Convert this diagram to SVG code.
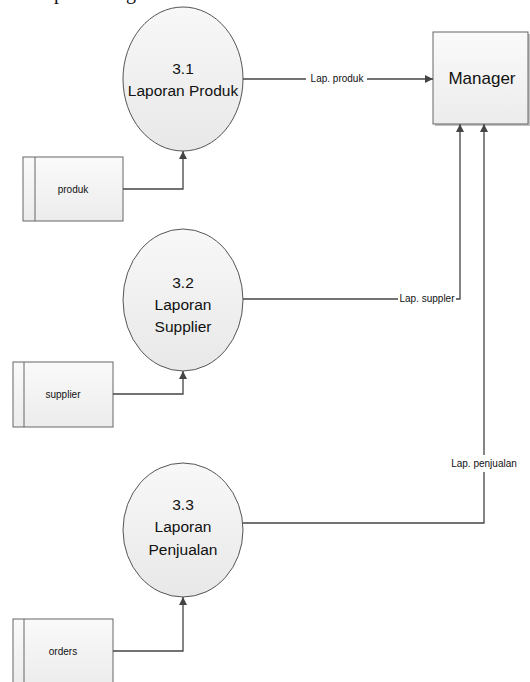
<svg xmlns="http://www.w3.org/2000/svg" width="530" height="682" viewBox="0 0 530 682">
<style>
.proc{fill:url(#gc);stroke:#555;stroke-width:1}
.box{fill:url(#gb);stroke:#666;stroke-width:1}
.shadow{fill:#999;opacity:0.6}
.big{font-family:"Liberation Sans",Arial,sans-serif;font-size:15.5px;fill:#111;text-anchor:middle}
.mgr{font-family:"Liberation Sans",Arial,sans-serif;font-size:17px;fill:#111;text-anchor:middle}
.small{font-family:"Liberation Sans",Arial,sans-serif;font-size:10px;fill:#111;text-anchor:middle}
.lbl{font-family:"Liberation Sans",Arial,sans-serif;font-size:10px;fill:#111;text-anchor:middle}
.flow{fill:none;stroke:#444;stroke-width:1.3}
.top{font-family:"Liberation Serif","Times New Roman",serif;font-size:20px;fill:#111}
</style>
<defs>
<linearGradient id="gc" x1="0" y1="0" x2="0" y2="1"><stop offset="0" stop-color="#f8f8f8"/><stop offset="1" stop-color="#e8e8e8"/></linearGradient>
<linearGradient id="gb" x1="0" y1="0" x2="0" y2="1"><stop offset="0" stop-color="#fafafa"/><stop offset="1" stop-color="#ececec"/></linearGradient>
<marker id="arr" viewBox="0 0 10 10" refX="10" refY="5" markerWidth="8" markerHeight="8" markerUnits="userSpaceOnUse" orient="auto"><path d="M0,0 L10,5 L0,10 z" fill="#444"/></marker>
</defs>
<g id="top-text">
<text class="top" x="54" y="-1">p</text>
<text class="top" x="126" y="-1">g</text>
</g>
<g id="manager">
<rect class="shadow" x="435" y="34" width="95" height="92"/>
<rect class="box" x="433" y="32" width="95" height="92"/>
<text class="mgr" x="482" y="84">Manager</text>
</g>
<g id="p31">
<ellipse class="proc" cx="183" cy="79" rx="60" ry="72"/>
<text class="big" x="183" y="74">3.1</text>
<text class="big" x="183" y="96">Laporan Produk</text>
</g>
<g id="p32">
<ellipse class="proc" cx="183" cy="300" rx="60" ry="71"/>
<text class="big" x="183" y="288">3.2</text>
<text class="big" x="183" y="310">Laporan</text>
<text class="big" x="183" y="332">Supplier</text>
</g>
<g id="p33">
<ellipse class="proc" cx="183" cy="530" rx="60" ry="67"/>
<text class="big" x="183" y="510">3.3</text>
<text class="big" x="183" y="532">Laporan</text>
<text class="big" x="183" y="555">Penjualan</text>
</g>
<g id="ds-produk">
<rect class="box" x="23" y="157" width="100" height="64"/>
<line x1="35" y1="157" x2="35" y2="221" stroke="#666"/>
<text class="small" x="73" y="193">produk</text>
</g>
<g id="ds-supplier">
<rect class="box" x="13" y="362" width="100" height="65"/>
<line x1="24" y1="362" x2="24" y2="427" stroke="#666"/>
<text class="small" x="63" y="398">supplier</text>
</g>
<g id="ds-orders">
<rect class="box" x="13" y="619" width="100" height="66"/>
<line x1="24" y1="619" x2="24" y2="685" stroke="#666"/>
<text class="small" x="63" y="655">orders</text>
</g>
<g id="connectors">
<path class="flow" d="M243,79 H306"/>
<path class="flow" d="M367,79 H433" marker-end="url(#arr)"/>
<text class="lbl" x="337" y="82">Lap. produk</text>
<path class="flow" d="M243,299 H398"/>
<path class="flow" d="M456,299 H460 V124" marker-end="url(#arr)"/>
<text class="lbl" x="427" y="302">Lap. suppler</text>
<path class="flow" d="M243,523 H484 V472"/>
<path class="flow" d="M484,455 V124" marker-end="url(#arr)"/>
<text class="lbl" x="484" y="467">Lap. penjualan</text>
<path class="flow" d="M123,189 H183 V151" marker-end="url(#arr)"/>
<path class="flow" d="M113,394 H183 V371" marker-end="url(#arr)"/>
<path class="flow" d="M113,651 H183 V597" marker-end="url(#arr)"/>
</g>
</svg>
